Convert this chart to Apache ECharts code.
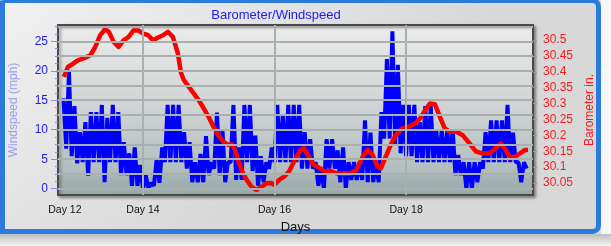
<!DOCTYPE html>
<html>
<head>
<meta charset="utf-8">
<script src="https://cdn.jsdelivr.net/npm/echarts@6/dist/echarts.min.js"></script>
<style>html,body{margin:0;padding:0;background:#f4f4f4}#c{width:611px;height:246px}</style>
</head>
<body>
<div id="c"></div>
<script>
// ---- data ----
const titleText = 'Barometer/Windspeed';
// x axis: hours since Day 12 00:00
const xMin = 17, xMax = 190.3;
const xLabelHours = [19.5, 48, 96, 144];
const xLabelTexts = ['Day 12', 'Day 14', 'Day 16', 'Day 18'];
const dayGridHours = [48, 96, 144];
const xTickHours = [19.4, 26.6, 33.5, 40.6, 48, 60, 72, 84, 96, 108, 120, 132, 144, 151, 158, 165];

// windspeed (mph), hourly samples starting at windStartHour
const windStartHour = 19;
const windSpeed = [
  15.3, 6.8, 19.8, 5.5, 14, 4.3, 9.6, 4.5, 11.3, 2.2,
  13, 4.5, 13, 4.5, 14.2, 1.1, 12, 4.5, 14.2, 4.5,
  13, 2.3, 7.9, 2.3, 6, 0.5, 7, 0.5, 4, 0,
  2.3, 0, 1, 0.5, 5, 1, 7, 4.5, 14.2, 4.5,
  14.2, 4.5, 14.2, 4.5, 9.6, 3.4, 7.9, 1.1, 4.5, 1.1,
  5.9, 1.1, 8.9, 2.3, 4.5, 3.4, 12.9, 2.3, 10, 1.1,
  4.5, 4.5, 14.2, 1.5, 7, 1.5, 14.2, 4.5, 14.2, 3,
  9, 0.5, 5.5, 1.1, 4.5, 3.4, 7, 4.5, 14.2, 4.5,
  12.5, 4.5, 14.2, 4.5, 14.2, 4.5, 14.2, 3.4, 9.6, 3.4,
  8.4, 3.4, 4.5, 0.5, 3.4, 0, 8.4, 3.4, 8.4, 3.4,
  6.5, 1.1, 7, 0, 4.5, 1.5, 4.5, 1.5, 4.5, 1.5,
  11.6, 1.1, 9.5, 1.1, 4.5, 1.1, 13, 8.5, 22, 8.5,
  26.7, 7.4, 21, 6, 14.2, 5.5, 14.2, 5.5, 14.2, 4.5,
  11.3, 4.5, 14, 4.5, 14, 4.5, 10, 4.5, 10, 4.5,
  10, 4.5, 10, 2.3, 5.7, 2.3, 4.5, 0, 4.5, 0,
  4.5, 1.1, 4.5, 3.4, 9.6, 4.5, 11.6, 4.5, 11.6, 4.5,
  11.6, 4.5, 14.2, 4.5, 9.5, 4.5, 4.5, 1.1, 4.5, 3.4
];

// barometer (in.)
const baroHours = [
  19.15, 20.6, 22.4, 24.2, 26.6, 28.8, 30.6, 32.4, 34.2, 35.6,
  37.3, 39.1, 40.9, 42.7, 44.5, 46.3, 48.1, 49.9, 51.7, 53.5,
  55.3, 57.1, 58.9, 60.7, 61.9, 62.9, 64.7, 66.5, 68.3, 70.1,
  71.9, 73.7, 75.5, 77.3, 79.1, 80.4, 81.6, 82.7, 84.0, 85.8,
  87.6, 89.4, 91.2, 93.0, 94.8, 95.9, 97.7, 99.5, 101.3, 103.1,
  105.5, 106.7, 108.5, 110.3, 112.7, 114.5, 116.3, 118.7, 121.1, 123.5,
  125.8, 128.2, 130.0, 131.8, 133.6, 134.8, 136.6, 138.4, 140.2, 142.6,
  145.0, 147.4, 149.2, 151.0, 152.7, 154.5, 156.3, 158.1, 159.9, 162.3,
  164.7, 167.1, 169.5, 171.9, 174.3, 176.1, 178.5, 180.3, 182.1, 183.8,
  185.6, 187.4, 188.5
];
const baroValues = [
  30.384, 30.415, 30.425, 30.436, 30.443, 30.452, 30.478, 30.515, 30.534, 30.525,
  30.494, 30.478, 30.499, 30.509, 30.53, 30.53, 30.52, 30.515, 30.499, 30.508,
  30.515, 30.526, 30.51, 30.459, 30.396, 30.374, 30.353, 30.332, 30.311, 30.286,
  30.259, 30.227, 30.2, 30.18, 30.17, 30.172, 30.154, 30.122, 30.09, 30.06,
  30.038, 30.028, 30.038, 30.049, 30.05, 30.044, 30.06, 30.07, 30.086, 30.117,
  30.154, 30.159, 30.133, 30.107, 30.096, 30.086, 30.088, 30.08, 30.08, 30.08,
  30.09, 30.133, 30.154, 30.138, 30.101, 30.096, 30.133, 30.17, 30.2, 30.222,
  30.227, 30.238, 30.254, 30.28, 30.3, 30.298, 30.259, 30.222, 30.211, 30.211,
  30.2, 30.175, 30.149, 30.143, 30.143, 30.154, 30.175, 30.154, 30.128, 30.133,
  30.143, 30.154, 30.154
];

// axis ticks
const windMin = -1.07, windMax = 27.76;
const windMajorTicks = [0, 5, 10, 15, 20, 25];
const windMinorTicks = [1.25, 2.5, 3.75, 6.25, 7.5, 8.75, 11.25, 12.5, 13.75, 16.25, 17.5, 18.75, 21.25, 22.5, 23.75, 26.25, 27.5];
const windGridLines = [0, 2.5, 5, 7.5, 10, 12.5, 15, 17.5, 20, 22.5, 25, 27.5];
const baroMin = 30.0122, baroMax = 30.5472;
const baroTicks = [30.05, 30.1, 30.15, 30.2, 30.25, 30.3, 30.35, 30.4, 30.45, 30.5];

// ---- chart ----
const chart = echarts.init(document.getElementById('c'), null, {renderer: 'canvas'});
const FONT = 'Liberation Sans';
const windData = windSpeed.map((v, i) => [windStartHour + i, v]);
const baroData = baroHours.map((h, i) => [h, baroValues[i]]);

const option = {
  animation: false,
  backgroundColor: new echarts.graphic.LinearGradient(0, 0, 0.3, 1, [
    {offset: 0, color: '#f1f1f1'}, {offset: 1, color: '#d8d8d8'}
  ]),
  title: {
    text: titleText, left: 271, top: 4, textAlign: 'center',
    textStyle: {color: '#1c1cf0', fontSize: 13, fontWeight: 'normal', fontFamily: FONT}
  },
  grid: {
    left: 50, top: 25, width: 483, height: 170, show: true,
    borderColor: '#4a4a4a', borderWidth: 2,
    backgroundColor: new echarts.graphic.LinearGradient(0, 0, 0, 1, [
      {offset: 0, color: '#ececec'}, {offset: 0.45, color: '#d2d5d5'},
      {offset: 0.85, color: '#b2bebe'}, {offset: 0.9, color: '#a3b2b2'}, {offset: 1, color: '#98a9a9'}
    ]),
    shadowColor: 'rgba(0,0,0,0.35)', shadowBlur: 3, shadowOffsetX: 2, shadowOffsetY: 2
  },
  xAxis: {
    type: 'value', min: xMin, max: xMax,
    name: 'Days', nameLocation: 'middle', nameGap: 22,
    nameTextStyle: {color: '#111', fontSize: 13, fontFamily: FONT},
    axisLine: {show: false},
    splitLine: {show: false},
    axisTick: {show: true, customValues: xTickHours, length: 4, lineStyle: {color: '#aaa', width: 1}},
    axisLabel: {
      customValues: xLabelHours, margin: 10, color: '#111', fontSize: 10.5, fontFamily: FONT,
      formatter: v => { const i = xLabelHours.indexOf(v); return i >= 0 ? xLabelTexts[i] : ''; }
    }
  },
  yAxis: [
    {
      type: 'value', position: 'left', min: windMin, max: windMax,
      name: 'Windspeed (mph)', nameLocation: 'middle', nameGap: 38, nameRotate: 90,
      nameTextStyle: {color: '#9c9cf2', fontSize: 12, fontFamily: FONT},
      axisLine: {show: false}, splitLine: {show: false},
      axisTick: {show: true, customValues: windMajorTicks, length: 7, lineStyle: {color: '#8a8af5', width: 1}},
      axisLabel: {customValues: windMajorTicks, margin: 10, color: '#1c1cf0', fontSize: 12, fontFamily: FONT}
    },
    {
      type: 'value', position: 'left', min: windMin, max: windMax,
      axisLine: {show: false}, splitLine: {show: false},
      axisTick: {show: true, customValues: windMinorTicks, length: 3, lineStyle: {color: '#8a8af5', width: 1}},
      axisLabel: {show: false}
    },
    {
      type: 'value', position: 'right', min: baroMin, max: baroMax,
      name: 'Barometer in.', nameLocation: 'middle', nameGap: 40, nameRotate: 90,
      nameTextStyle: {color: '#ff1a1a', fontSize: 12, fontFamily: FONT},
      axisLine: {show: false}, splitLine: {show: false},
      axisTick: {show: true, customValues: baroTicks, length: 4, lineStyle: {color: '#999', width: 1}},
      axisLabel: {
        customValues: baroTicks, margin: 10, color: '#ff1a1a', fontSize: 12, fontFamily: FONT,
        formatter: v => String(Math.round(v * 100) / 100)
      }
    }
  ],
  graphic: [
    {type: 'rect', shape: {x: 601, y: 0, width: 10, height: 246}, style: {fill: '#f6f6f6'}, silent: true},
    {type: 'rect', shape: {x: 0, y: 234, width: 611, height: 12},
      style: {fill: new echarts.graphic.LinearGradient(0, 0, 0, 1, [{offset: 0, color: '#bdbdbd'}, {offset: 1, color: '#f4f4f4'}])}, silent: true},
    {type: 'rect', shape: {x: 2.5, y: 0.5, width: 596, height: 231, r: [0, 6, 6, 0]},
      style: {fill: null, stroke: '#2a7bdc', lineWidth: 5}, silent: true}
  ],
  series: [
    {
      type: 'line', yAxisIndex: 0, data: [], silent: true, z: 1,
      markLine: {
        silent: true, symbol: 'none', label: {show: false},
        lineStyle: {color: '#aab0b0', width: 2, type: 'solid'},
        data: windGridLines.map(v => ({yAxis: v})).concat(dayGridHours.map(h => ({xAxis: h})))
      }
    },
    {
      type: 'line', yAxisIndex: 0, data: windData, showSymbol: false, z: 3,
      lineStyle: {color: '#0000ff', width: 4}, itemStyle: {color: '#0000ff'}
    },
    {
      type: 'line', yAxisIndex: 2, data: baroData, showSymbol: false, z: 4,
      lineStyle: {color: '#ff0000', width: 4.5, join: 'round'}, itemStyle: {color: '#ff0000'}
    }
  ]
};
chart.setOption(option);
</script>
</body>
</html>
